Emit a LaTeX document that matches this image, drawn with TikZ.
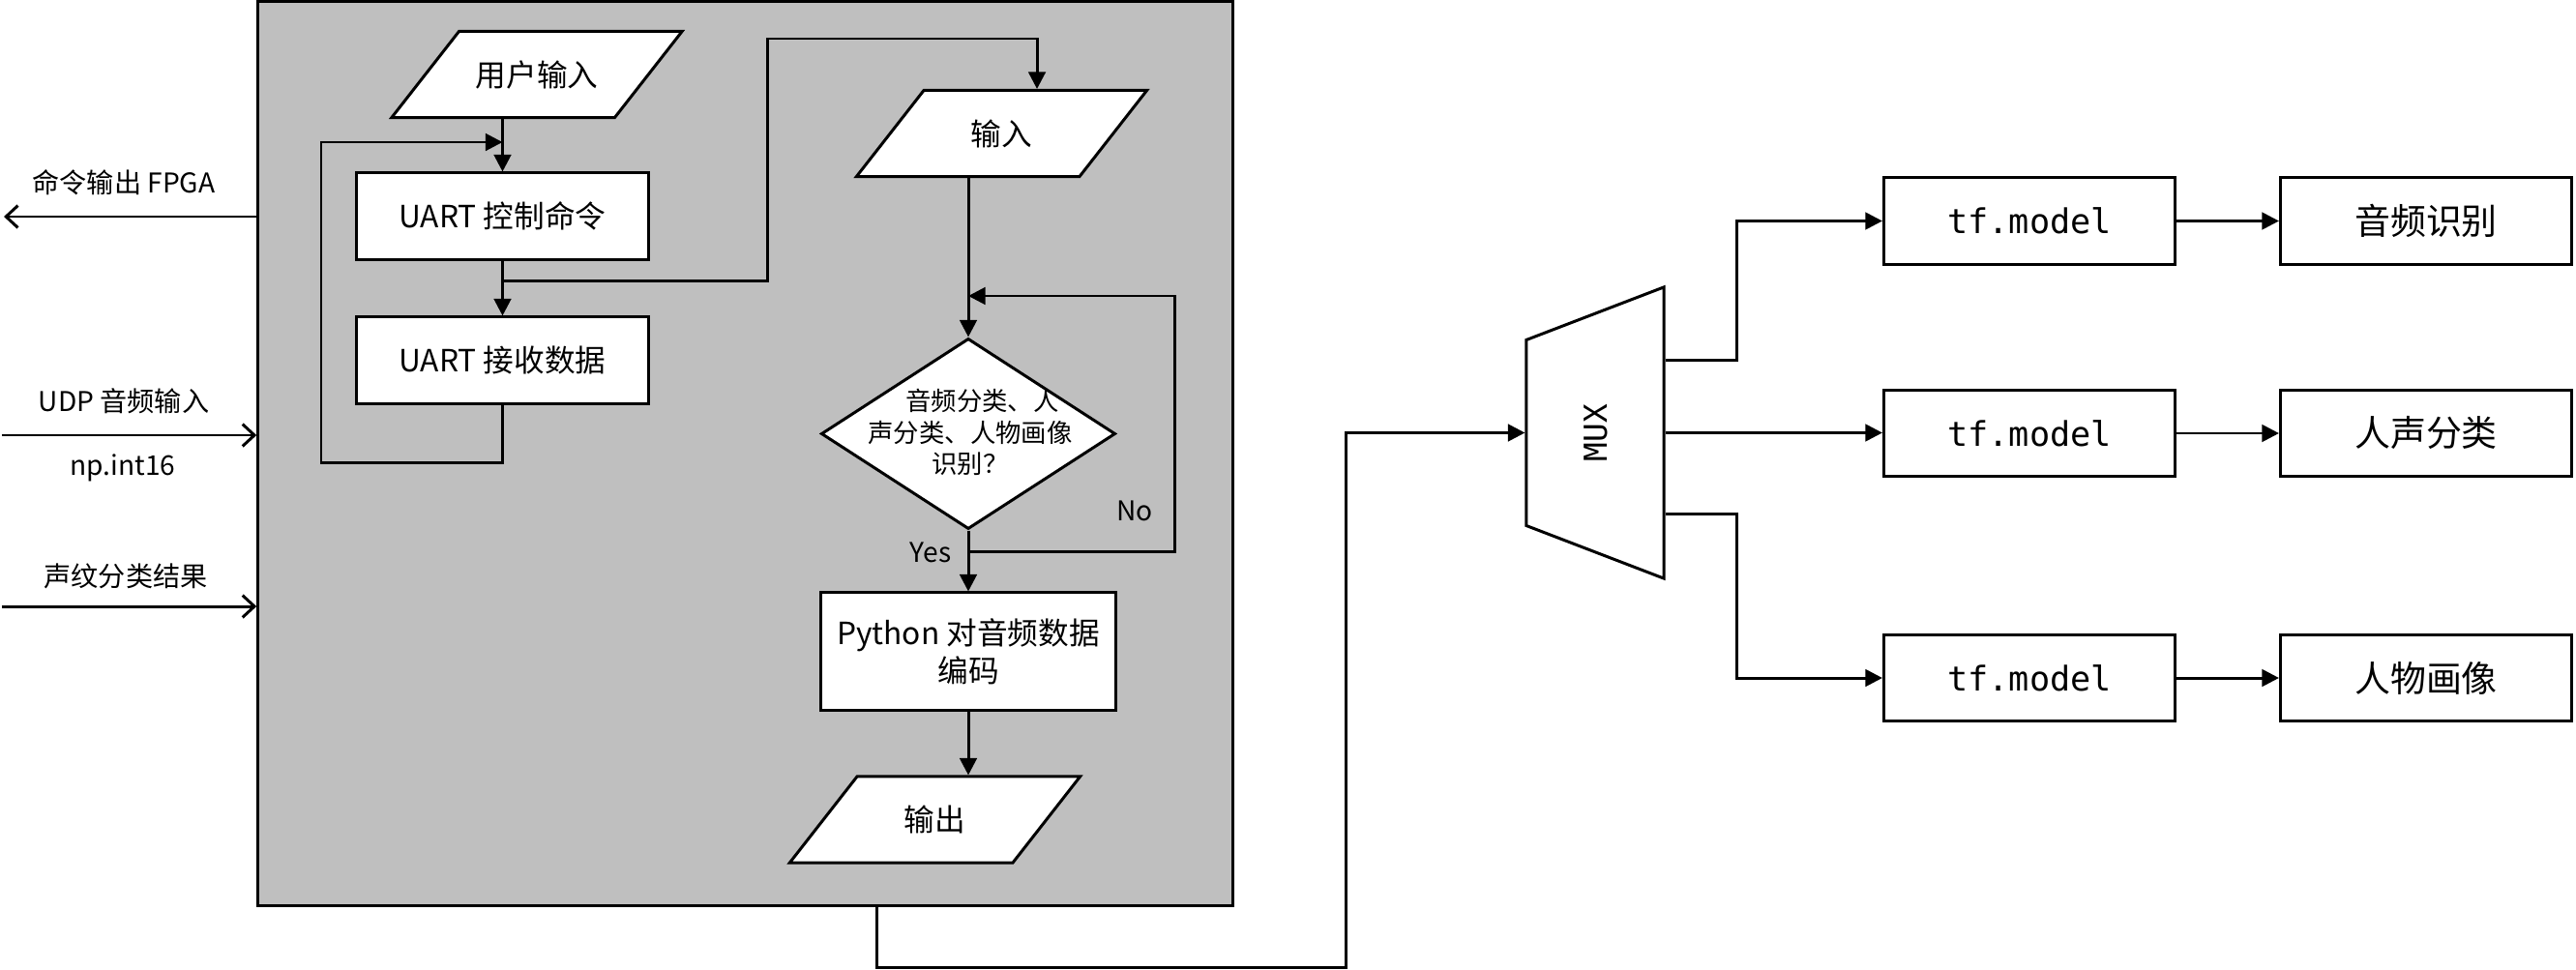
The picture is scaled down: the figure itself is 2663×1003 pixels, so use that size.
\documentclass[tikz,border=0pt]{standalone}
\usepackage{fontspec}
\setmainfont{Noto Sans CJK SC}
\setmonofont{DejaVu Sans Mono}
\usetikzlibrary{arrows.meta,shapes.geometric,positioning}
\definecolor{boxgray}{RGB}{191,191,191}
\tikzset{
  proc/.style={draw, fill=white, minimum width=3.01cm, minimum height=0.89cm, inner sep=1pt, align=center},
  io/.style={trapezium, trapezium left angle=52, trapezium right angle=128, trapezium stretches body,
    draw, fill=white, minimum width=3cm, text height=0.565cm, text depth=0.325cm, inner ysep=0pt},
  flow/.style={-{Triangle[length=5pt,width=5pt]}},
  sig/.style={-{Straight Barb[length=3.5pt,width=6.5pt]}},
  small/.style={font=\fontsize{8}{10}\selectfont}
}

\begin{document}
\begin{tikzpicture}[x=0.01cm, y=-0.01cm, line width=0.85pt, font=\fontsize{9}{11}\selectfont]
\useasboundingbox (0,0) rectangle (2663,1003);
% host side
\node[draw, fill=boxgray, minimum width=10.07cm, minimum height=9.34cm] (sys) at (770.5,469) {};

% signals on the left
\coordinate (fpga) at (4,224);
\coordinate (udp) at (2,450);
\coordinate (vp) at (2,627);
\draw[sig] (sys.west |- fpga) -- (fpga);
\draw[sig] (udp) -- (sys.west |- udp);
\draw[sig] (vp) -- (sys.west |- vp);
\node[small] (fpgalbl) at (128,189) {命令输出 FPGA};
\node[small] (udplbl) at (128,415) {UDP 音频输入};
\node[small] (typelbl) at (127,484) {np.int16};
\node[small] (vplbl) at (130,596) {声纹分类结果};

% uart loop
\node[io] (usrin) at (555,77) {用户输入};
\node[proc] (uart1) at (519.5,223.5) {UART 控制命令};
\node[proc] (uart2) at (519.5,372.5) {UART 接收数据};
\draw[flow] (uart1.north |- usrin.south) -- (uart1.north);
\draw[flow] (uart1) -- (uart2);
\draw[flow] (uart2.south) -- ++(0,60) -| (332,147) -- (uart1.north |- 0,147);

% audio path
\node[io] (in2) at (1035.5,138) {输入};
\node[diamond, draw, fill=white, minimum width=3.04cm, minimum height=1.97cm, inner sep=0pt] (dec) at (1001,448.5) {};
\node[align=center, font=\fontsize{7.5}{9.3}\selectfont] (dectxt) at (1003,447) {\hspace*{0.25cm}音频分类、人\\声分类、人物画像\\识别？};
\node[proc, minimum width=3.04cm, minimum height=1.21cm] (py) at (1001,673.5) {Python 对音频数据\\编码};
\node[io] (out) at (966.5,847.5) {输出};
\draw[flow] (uart1.south) ++(0,21) -| (793,40) -| ([xshift=0.365cm]in2.north);
\draw[flow] (dec.north |- in2.south) -- (dec.north);
\draw[flow] (dec.south) ++(0,22) -| (1214,306) -- (dec.north |- 0,306);
\draw[flow] (dec) -- (py);
\draw[flow] (py.south) -- (py.south |- out.north);
\node[small] (yes) at (962,571) {Yes};
\node[small] (no) at (1173,528) {No};

% models
\node[trapezium, trapezium left angle=69, trapezium right angle=69, trapezium stretches body, draw, rotate=90,
  minimum width=3.01cm, text height=0.83cm, text depth=0.59cm, inner ysep=0pt,
  font=\ttfamily\fontsize{9.3}{11}\selectfont] (mux) at (1649,447.5) {MUX};
\coordinate (bend) at (1391,1000);
\draw[flow] ([xshift=1.355cm]sys.south) |- (bend) |- (mux.north);

\node[proc, font=\ttfamily\fontsize{10}{12}\selectfont] (tf1) at (2098,228.5) {tf.model};
\node[proc, font=\ttfamily\fontsize{10}{12}\selectfont] (tf2) at (2098,448) {tf.model};
\node[proc, font=\ttfamily\fontsize{10}{12}\selectfont] (tf3) at (2098,701) {tf.model};
\node[proc, font=\fontsize{10.5}{12}\selectfont] (res1) at (2508,228.5) {音频识别};
\node[proc, font=\fontsize{10.5}{12}\selectfont] (res2) at (2508,448) {人声分类};
\node[proc, font=\fontsize{10.5}{12}\selectfont] (res3) at (2508,701) {人物画像};
\draw[flow] ([yshift=0.745cm]mux.south) -- ++(74,0) |- (tf1.west);
\draw[flow] (mux.south) -- (mux.south -| tf2.west);
\draw[flow] ([yshift=-0.835cm]mux.south) -- ++(74,0) |- (tf3.west);
\draw[flow] (tf1) -- (res1);
\draw[flow] (tf2) -- (res2);
\draw[flow] (tf3) -- (res3);
\end{tikzpicture}
\end{document}
